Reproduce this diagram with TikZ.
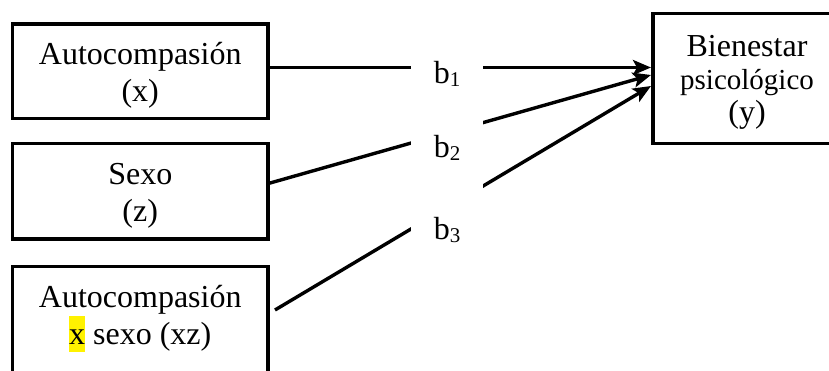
\documentclass[tikz,border=0pt]{standalone}
\usepackage{fontspec}
\setmainfont{Liberation Serif}
\usetikzlibrary{arrows.meta,calc}

% first line of a centred multi-line label sits on the node's base
\newcommand{\stacktext}[2]{\parbox[t]{#1}{\centering #2}}
% lowered, smaller index for the coefficients
\newcommand{\subidx}[1]{\raisebox{-3pt}{\fontsize{21}{21}\selectfont #1}}
% yellow marker behind a word
\newcommand{\marked}[1]{{\setlength{\fboxsep}{0pt}\colorbox{yellow}{\rule[-8pt]{0pt}{36pt}#1}}}

\tikzset{
  frame/.style={draw=black, line width=3.4pt, fill=white, inner sep=0pt,
                outer sep=0pt, anchor=north west},
  boxtext/.style={anchor=base, inner sep=0pt, font=\fontsize{32}{37}\selectfont},
  link/.style={draw=black, line width=3.4pt},
  arrowlink/.style={link, -{Stealth[length=18pt,width=15pt,inset=4pt]}},
  coef/.style={anchor=base, fill=white, inner sep=0pt, minimum width=72pt,
               text depth=10pt, font=\fontsize{32}{37}\selectfont},
}

\begin{document}
\begin{tikzpicture}[x=1pt,y=-1pt]
  \useasboundingbox (0,0) rectangle (829,371);
  \clip (0,0) rectangle (829,371);
  \fill[white] (0,0) rectangle (829,371);

  % predictor boxes
  \node[frame, minimum width=255.5pt, minimum height=94.5pt] (x)  at (12.5,24)  {};
  \node[frame, minimum width=255.5pt, minimum height=95.5pt] (z)  at (12.5,143.5) {};
  \node[frame, minimum width=255.5pt, minimum height=130pt]  (xz) at (12.5,266.5) {};
  % outcome box
  \node[frame, minimum width=200pt, minimum height=130pt]    (y)  at (653,13.3) {};

  \node[boxtext] (xlabel)  at (140.25,65)  {\stacktext{250pt}{Autocompasión\\(x)}};
  \node[boxtext] (zlabel)  at (140.25,185) {\stacktext{250pt}{Sexo\\(z)}};
  \node[boxtext] (xzlabel) at (140.25,307) {\stacktext{250pt}{Autocompasión\\\marked{x} sexo (xz)}};
  \node[boxtext, font=\fontsize{32}{33}\selectfont] (ylabel) at (747,57)
    {\stacktext{180pt}{Bienestar\\{\fontsize{29}{33}\selectfont psicológico}\\(y)}};

  % end points of the paths
  \coordinate (x-out)  at ($(x.east)+(0,-3.75)$);
  \coordinate (z-out)  at ($(z.east)+(0,-7.65)$);
  \coordinate (xz-out) at ($(xz.north east)+(7,43.5)$);
  \coordinate (y-in1)  at ($(y.west)+(-2,-10.8)$);
  \coordinate (y-in2)  at ($(y.west)+(-2,-3.3)$);
  \coordinate (y-in3)  at ($(y.west)+(-2,7.7)$);

  \draw[arrowlink] (x-out)  -- (y-in1);
  \draw[arrowlink] (z-out)  -- (y-in2);
  \draw[arrowlink] (xz-out) -- (y-in3);

  % coefficient labels, set over the paths
  \node[coef, text height=30pt] (b1) at (447,84)  {b\subidx{1}};
  \node[coef, text height=40pt] (b2) at (447,158) {b\subidx{2}};
  \node[coef, text height=60pt] (b3) at (447,240) {b\subidx{3}};
\end{tikzpicture}
\end{document}
